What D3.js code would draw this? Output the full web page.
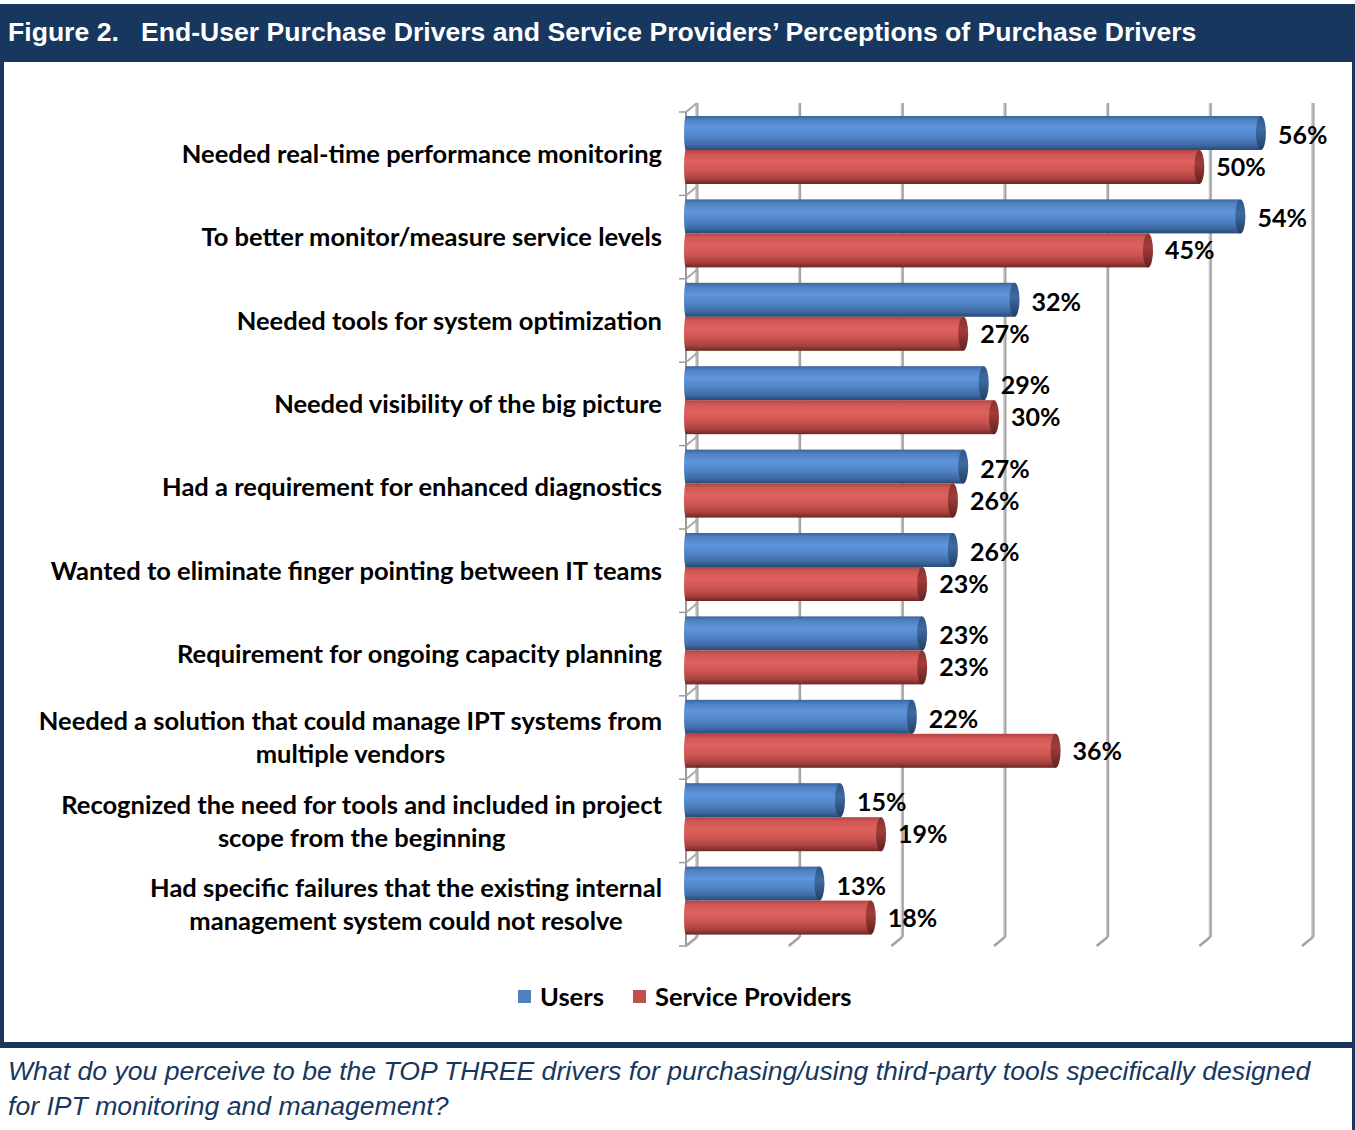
<!DOCTYPE html>
<html>
<head>
<meta charset="utf-8">
<script src="https://cdn.jsdelivr.net/npm/d3@7"></script>
<style>
  html, body { margin: 0; padding: 0; background: #fff; }
  svg { display: block; }
</style>
</head>
<body>
<svg id="chart" width="1355" height="1130"></svg>
<script>
// Survey drivers, top to bottom; "\n" marks a line break in the axis label
const categories = [
  "Needed real-time performance monitoring",
  "To better monitor/measure service levels",
  "Needed tools for system optimization",
  "Needed visibility of the big picture",
  "Had a requirement for enhanced diagnostics",
  "Wanted to eliminate finger pointing between IT teams",
  "Requirement for ongoing capacity planning",
  "Needed a solution that could manage IPT systems from\nmultiple vendors",
  "Recognized the need for tools and included in project\nscope from the beginning",
  "Had specific failures that the existing internal\nmanagement system could not resolve"
];
const seriesNames = ["Users", "Service Providers"];
const users = [56, 54, 32, 29, 27, 26, 23, 22, 15, 13];
const providers = [50, 45, 27, 30, 26, 23, 23, 36, 19, 18];
const xTicks = [0, 10, 20, 30, 40, 50, 60];

const titleText = "Figure 2.   End-User Purchase Drivers and Service Providers\u2019 Perceptions of Purchase Drivers";
const captionLines = [
  "What do you perceive to be the TOP THREE drivers for purchasing/using third-party tools specifically designed",
  "for IPT monitoring and management?"
];

const W = 1355, H = 1130;
const navy = "#17375e";
const svg = d3.select("#chart");

// ---- frame: title band, side borders, caption separator ----
svg.append("rect").attr("x", 0).attr("y", 4).attr("width", W).attr("height", 58).attr("fill", navy);
svg.append("rect").attr("x", 0).attr("y", 62).attr("width", 4).attr("height", 981).attr("fill", navy);
svg.append("rect").attr("x", W - 3).attr("y", 62).attr("width", 3).attr("height", H - 62).attr("fill", navy);
svg.append("rect").attr("x", 0).attr("y", 1042).attr("width", W).attr("height", 6).attr("fill", navy);

svg.append("text")
  .attr("x", 8).attr("y", 41)
  .attr("fill", "#fff")
  .style("font-family", "'Liberation Sans', Arial, sans-serif")
  .style("font-weight", "bold")
  .style("font-size", "26.6px")
  .style("white-space", "pre")
  .attr("xml:space", "preserve")
  .text(titleText);

svg.append("g").selectAll("text").data(captionLines).join("text")
  .attr("x", 8).attr("y", (d, i) => 1080 + i * 35)
  .attr("fill", navy)
  .style("font-family", "'Liberation Sans', Arial, sans-serif")
  .style("font-style", "italic")
  .style("font-size", "26.6px")
  .text(d => d);

// ---- scales ----
const plotTop = 112, plotBottom = 946;
const depthX = 11, depthY = -9;
const x = d3.scaleLinear().domain([0, 60]).range([686, 1302]);
const y = d3.scaleBand().domain(categories).range([plotTop, plotBottom]).padding(0);
const barH = 34;
const yInner = d3.scaleBand().domain(seriesNames).range([0, barH * 2]);
const bandOffset = 4;

// ---- gradients for cylinder bars ----
const defs = svg.append("defs");
const palettes = {
  "Users": {
    body: [[0, "#3a6699"], [0.12, "#4f82c4"], [0.35, "#5f95da"], [0.6, "#5285c8"], [0.85, "#3d6aa4"], [1, "#284a74"]],
    cap:  [[0, "#2f5686"], [0.4, "#3f6aa2"], [1, "#223f63"]]
  },
  "Service Providers": {
    body: [[0, "#b04542"], [0.12, "#cf5754"], [0.35, "#de625e"], [0.6, "#cf5653"], [0.85, "#a8413e"], [1, "#6c2725"]],
    cap:  [[0, "#8a3331"], [0.4, "#a13c39"], [1, "#5e2220"]]
  }
};
seriesNames.forEach((s, k) => {
  ["body", "cap"].forEach(part => {
    const g = defs.append("linearGradient")
      .attr("id", `grad-${k}-${part}`)
      .attr("x1", 0).attr("y1", 0).attr("x2", 0).attr("y2", 1);
    g.selectAll("stop").data(palettes[s][part]).join("stop")
      .attr("offset", d => d[0]).attr("stop-color", d => d[1]);
  });
});

// ---- 3D walls: back gridlines, floor slants, left wall ----
const grid = svg.append("g");
const gridDark = "#a3a3a3", gridLight = "#d6d6d6";
xTicks.forEach(t => {
  const bx = x(t) + depthX;
  grid.append("line").attr("x1", bx).attr("x2", bx)
    .attr("y1", plotTop + depthY).attr("y2", plotBottom + depthY)
    .attr("stroke", gridDark).attr("stroke-width", 3);
  grid.append("line").attr("x1", bx - 1).attr("x2", bx - 1)
    .attr("y1", plotTop + depthY).attr("y2", plotBottom + depthY)
    .attr("stroke", gridLight).attr("stroke-width", 1);
  grid.append("line").attr("x1", bx).attr("y1", plotBottom + depthY)
    .attr("x2", x(t)).attr("y2", plotBottom)
    .attr("stroke", gridDark).attr("stroke-width", 2.5);
});
// left wall front edge with category ticks
const x0 = x(0);
grid.append("line").attr("x1", x0).attr("x2", x0)
  .attr("y1", plotTop).attr("y2", plotBottom)
  .attr("stroke", "#9a9a9a").attr("stroke-width", 2);
const boundaries = categories.map(c => y(c)).concat([plotBottom]);
boundaries.forEach(b => {
  grid.append("line").attr("x1", x0 - 7).attr("x2", x0)
    .attr("y1", b).attr("y2", b)
    .attr("stroke", "#9a9a9a").attr("stroke-width", 1.5);
  grid.append("line").attr("x1", x0).attr("y1", b)
    .attr("x2", x0 + depthX).attr("y2", b + depthY)
    .attr("stroke", "#a8a8a8").attr("stroke-width", 2);
});

// ---- bars ----
const rows = categories.map((c, i) => ({ cat: c, values: [users[i], providers[i]] }));
const bars = svg.append("g");
const capRx = 5;
rows.forEach(r => {
  r.values.forEach((v, k) => {
    const s = seriesNames[k];
    const top = y(r.cat) + bandOffset + yInner(s);
    const end = x(v);
    bars.append("rect")
      .attr("x", x0).attr("y", top)
      .attr("width", end - x0).attr("height", barH)
      .attr("fill", `url(#grad-${k}-body)`);
    bars.append("ellipse")
      .attr("cx", x0).attr("cy", top + barH / 2)
      .attr("rx", 2).attr("ry", barH / 2)
      .attr("fill", `url(#grad-${k}-body)`);
    bars.append("ellipse")
      .attr("cx", end).attr("cy", top + barH / 2)
      .attr("rx", capRx).attr("ry", barH / 2)
      .attr("fill", `url(#grad-${k}-cap)`);
  });
});

// ---- value labels ----
const labelFont = "Lato, 'Open Sans', sans-serif";
const vals = svg.append("g");
rows.forEach(r => {
  r.values.forEach((v, k) => {
    const s = seriesNames[k];
    const top = y(r.cat) + bandOffset + yInner(s);
    vals.append("text")
      .attr("x", x(v) + 17)
      .attr("y", top + barH / 2 + (k === 0 ? 2 : 0))
      .attr("dy", "0.36em")
      .style("font-family", labelFont)
      .style("font-weight", "bold")
      .style("font-size", "25px")
      .attr("fill", "#000")
      .text(v + "%");
  });
});

// ---- category labels (multi-line ones centred on their widest line) ----
const labelRight = 662;
const lineGap = 33;
const catG = svg.append("g");
categories.forEach(c => {
  const lines = c.split("\n");
  const cy = y(c) + y.bandwidth() / 2;
  const g = catG.append("g");
  const texts = lines.map((ln, j) => g.append("text")
    .attr("y", cy + (j - (lines.length - 1) / 2) * lineGap)
    .attr("dy", "0.36em")
    .style("font-family", labelFont)
    .style("font-weight", "bold")
    .style("font-size", "25.5px")
    .attr("fill", "#000")
    .text(ln));
  const widths = texts.map(t => t.node().getComputedTextLength());
  const maxW = d3.max(widths);
  texts.forEach(t => {
    t.attr("x", labelRight - maxW / 2).attr("text-anchor", "middle");
  });
});

// ---- legend ----
const legend = svg.append("g");
const legendItems = [
  { name: seriesNames[0], color: "#4f81bd", x: 518 },
  { name: seriesNames[1], color: "#c0504d", x: 633 }
];
legendItems.forEach(it => {
  legend.append("rect").attr("x", it.x).attr("y", 990)
    .attr("width", 13).attr("height", 13).attr("fill", it.color);
  legend.append("text").attr("x", it.x + 22).attr("y", 997)
    .attr("dy", "0.36em")
    .style("font-family", labelFont)
    .style("font-weight", "bold")
    .style("font-size", "25.5px")
    .text(it.name);
});
</script>
</body>
</html>
